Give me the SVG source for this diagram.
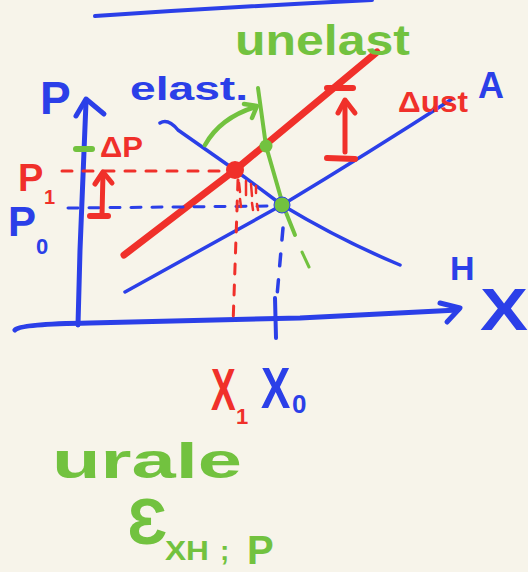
<svg xmlns="http://www.w3.org/2000/svg" width="528" height="572" viewBox="0 0 528 572">
<style>
.b{stroke:#2b3fe8;fill:none;stroke-linecap:round;stroke-linejoin:round}
.r{stroke:#f0302a;fill:none;stroke-linecap:round;stroke-linejoin:round}
.g{stroke:#72c23f;fill:none;stroke-linecap:round;stroke-linejoin:round}
.t{font-family:"Liberation Sans",Arial,sans-serif;font-weight:bold}
.tb{fill:#2b3fe8}.tr{fill:#f0302a}.tg{fill:#72c23f}
</style>
<rect width="528" height="572" fill="#f7f4ea"/>
<g id="connectors">
<path class="b" d="M95,16 Q230,7 372,0" stroke-width="4"/>
<path class="b" d="M78,325 L80,250 L86,102" stroke-width="5"/>
<path class="b" d="M76,116 L86,99 L104,114" stroke-width="5"/>
<path class="b" d="M15,330 Q20,324 90,323 L300,318 L458,310" stroke-width="5"/>
<path class="b" d="M440,303 L460,308 L447,322" stroke-width="5"/>
<path class="b" d="M160,123 Q168,118 178,130 L235,170 L282,205 Q340,240 400,265" stroke-width="3.5"/>
<path class="b" d="M125,292 L282,205 Q370,152 452,99" stroke-width="3.5"/>
<path class="r" d="M124,255 L235,170 L377,52" stroke-width="7"/>
<path class="g" d="M258,88 L266,146 L283,205 L295,235" stroke-width="4"/>
<path class="g" d="M302,252 L309,267" stroke-width="3"/>
<path class="g" d="M205,145 Q220,118 255,107" stroke-width="4.5"/>
<path class="g" d="M244,104 L257,106 L252,118" stroke-width="4.5"/>
<path class="r" d="M62,171 L230,171" stroke-width="3" stroke-dasharray="10 11"/>
<path class="b" d="M68,208 L275,206" stroke-width="3" stroke-dasharray="10 11"/>
<path class="r" d="M238,180 L233,325" stroke-width="3" stroke-dasharray="10 11"/>
<path class="b" d="M283,228 L277,296" stroke-width="3.5" stroke-dasharray="12 14"/>
<path class="b" d="M275,298 L276,338" stroke-width="4"/>
<path class="r" d="M239,183 L240,192 M246,181 L246,195 M251,184 L252,196 M256,186 L256,193 M240,199 L241,207 M252,203 L253,210 M257,204 L258,210" stroke-width="2.5"/>
<path class="r" d="M102,215 L103,173" stroke-width="5"/>
<path class="r" d="M95,184 L103,172 L112,183" stroke-width="5"/>
<path class="r" d="M90,216 L108,216" stroke-width="6"/>
<path class="r" d="M345,152 L345,102" stroke-width="5"/>
<path class="r" d="M338,113 L345,100 L355,113" stroke-width="5"/>
<path class="r" d="M327,88 L353,88" stroke-width="6"/>
<path class="r" d="M327,158 L355,159" stroke-width="6"/>
<path class="g" d="M76,149 L92,149" stroke-width="6"/>
</g>
<g id="dot-red"><circle cx="235" cy="170" r="9" fill="#f0302a"/></g>
<g id="dot-green1"><circle cx="266" cy="146" r="6.5" fill="#72c23f"/></g>
<g id="dot-green2"><circle cx="282" cy="205" r="8" fill="#72c23f" stroke="#2b3fe8" stroke-width="1"/></g>
<g id="label-P"><text class="t tb" x="40" y="114" font-size="46">P</text></g>
<g id="label-elast"><text class="t tb" x="130" y="100" font-size="34" textLength="118" lengthAdjust="spacingAndGlyphs">elast.</text></g>
<g id="label-unelast"><text class="t tg" x="235" y="55" font-size="42" textLength="175" lengthAdjust="spacingAndGlyphs">unelast</text></g>
<g id="label-dP"><text class="t tr" x="100" y="157" font-size="30" textLength="43" lengthAdjust="spacingAndGlyphs">ΔP</text></g>
<g id="label-P1"><text class="t tr" x="18" y="191" font-size="38">P</text><text class="t tr" x="44" y="204" font-size="20">1</text></g>
<g id="label-P0"><text class="t tb" x="8" y="236" font-size="42">P</text><text class="t tb" x="36" y="254" font-size="22">0</text></g>
<g id="label-dust"><text class="t tr" x="398" y="112" font-size="30" textLength="70" lengthAdjust="spacingAndGlyphs">Δust</text></g>
<g id="label-A"><text class="t tb" x="478" y="98" font-size="36">A</text></g>
<g id="label-H"><text class="t tb" x="450" y="280" font-size="34">H</text></g>
<g id="label-X"><text class="t tb" x="480" y="330" font-size="60" textLength="48" lengthAdjust="spacingAndGlyphs">X</text></g>
<g id="label-X1"><text class="t tr" transform="translate(211,410) scale(1,1.6)" x="0" y="0" font-size="37">X</text><text class="t tr" x="236" y="424" font-size="22">1</text></g>
<g id="label-X0"><text class="t tb" transform="translate(261,408) scale(1,1.3)" x="0" y="0" font-size="44">X</text><text class="t tb" x="292" y="413" font-size="26">0</text></g>
<g id="label-urale"><text class="t tg" x="52" y="478" font-size="50" textLength="190" lengthAdjust="spacingAndGlyphs">urale</text></g>
<g id="label-eps"><text class="t tg" x="127" y="544" font-size="64">Ɛ</text><text class="t tg" x="165" y="560" font-size="28" textLength="44" lengthAdjust="spacingAndGlyphs">XH</text><text class="t tg" x="220" y="560" font-size="28">;</text><text class="t tg" x="247" y="564" font-size="40">P</text></g>
</svg>
